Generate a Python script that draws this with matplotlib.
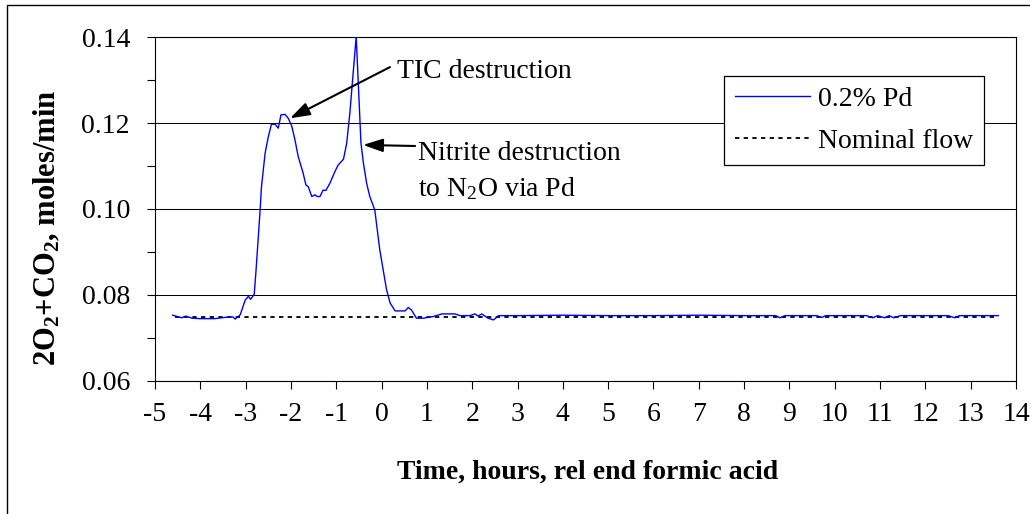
import matplotlib
matplotlib.use("Agg")
import matplotlib.pyplot as plt
from matplotlib.patches import Rectangle

plt.rcParams['font.family'] = ['Liberation Serif', 'DejaVu Serif']
plt.rcParams['mathtext.fontset'] = 'custom'
plt.rcParams['mathtext.rm'] = 'Liberation Serif'
plt.rcParams['mathtext.it'] = 'Liberation Serif:italic'
plt.rcParams['mathtext.bf'] = 'Liberation Serif:bold'
plt.rcParams['axes.unicode_minus'] = False

# ---- data ----
time_h = [-4.61, -4.41, -4.32, -4.18, -4.01, -3.68, -3.45, -3.28, -3.23, -3.12,
          -3.01, -2.94, -2.89, -2.81, -2.77, -2.68, -2.65, -2.57, -2.50, -2.43,
          -2.35, -2.28, -2.22, -2.13, -2.06, -1.98, -1.91, -1.84, -1.73, -1.67,
          -1.62, -1.54, -1.47, -1.42, -1.36, -1.29, -1.23, -1.14, -1.03, -0.96,
          -0.84, -0.77, -0.70, -0.64, -0.56, -0.455, -0.40, -0.33, -0.26, -0.15,
          -0.04, 0.11, 0.19, 0.30, 0.52, 0.59, 0.66, 0.77, 0.92, 1.14,
          1.33, 1.62, 1.73, 1.95, 2.06, 2.13, 2.21, 2.35, 2.47, 2.58,
          3.0, 4.0, 5.0, 6.0, 7.0, 8.0, 8.70, 8.79, 8.90, 9.60,
          9.72, 9.80, 10.70, 10.84, 10.95, 11.10, 11.20, 11.30, 11.45, 12.50,
          12.65, 12.75, 13.61]
pd_flow = [0.0753, 0.0747, 0.0751, 0.0746, 0.0745, 0.0745, 0.0748, 0.0749, 0.0744, 0.0754,
           0.0788, 0.0797, 0.0790, 0.0802, 0.0858, 0.0998, 0.1052, 0.1130, 0.1168, 0.1197,
           0.1197, 0.1188, 0.1219, 0.1220, 0.1211, 0.1192, 0.1160, 0.1122, 0.1083, 0.1056,
           0.1052, 0.1029, 0.1033, 0.1029, 0.1029, 0.1044, 0.1043, 0.1060, 0.1087, 0.1102,
           0.1116, 0.1153, 0.1223, 0.1300, 0.1401, 0.1153, 0.1106, 0.1060, 0.1029, 0.0998,
           0.0905, 0.0812, 0.0781, 0.0763, 0.0763, 0.0771, 0.0765, 0.0746, 0.0746, 0.0750,
           0.0756, 0.0756, 0.0752, 0.0752, 0.0756, 0.0751, 0.0756, 0.0746, 0.0742, 0.0752,
           0.0752, 0.0753, 0.0752, 0.0752, 0.0753, 0.0752, 0.0752, 0.0747, 0.0752, 0.0752,
           0.0748, 0.0752, 0.0752, 0.0747, 0.0752, 0.0747, 0.0752, 0.0747, 0.0752, 0.0752,
           0.0747, 0.0752, 0.0752]

nominal_t = [-4.55, 13.55]
nominal_flow = [0.075, 0.075]

x_ticks = list(range(-5, 15))
y_ticks = [0.06, 0.08, 0.10, 0.12, 0.14]
y_minor = [0.07, 0.09, 0.11, 0.13]

FS = 20

fig = plt.figure(figsize=(10.3, 5.14), dpi=100)
ax = fig.add_axes([155/1030, 1 - 381/514, (1016 - 155)/1030, (381 - 37)/514])

ax.plot(time_h, pd_flow, color='#0000ff', lw=1.0, label='0.2% Pd', zorder=3)
ax.plot(nominal_t, nominal_flow, color='black', lw=1.3, linestyle=(0, (2.4, 2.4)),
        label='Nominal flow', zorder=2)

ax.set_xlim(-5, 14)
ax.set_ylim(0.06, 0.14)
ax.set_xticks(x_ticks)
ax.set_yticks(y_ticks)
ax.set_yticks(y_minor, minor=True)
ax.set_yticklabels([f'{v:.2f}' for v in y_ticks])
ax.yaxis.grid(True, which='major', color='black', lw=0.75)
for s in ax.spines.values():
    s.set_color('black')
    s.set_linewidth(0.8)
ax.tick_params(axis='both', which='both', direction='out', length=6, width=0.8,
               labelsize=FS)
ax.tick_params(axis='y', pad=12)
ax.tick_params(axis='x', pad=9)

# annotations
ax.annotate('', xy=(-2.02, 0.1211), xytext=(0.185, 0.1330),
            arrowprops=dict(arrowstyle='-|>,head_length=0.6,head_width=0.2',
                            mutation_scale=20, lw=1.5, color='black',
                            shrinkA=0, shrinkB=0))
ax.text(0.34, 0.1305, 'TIC destruction', fontsize=FS, ha='left', va='baseline')

ax.annotate('', xy=(-0.41, 0.1149), xytext=(0.74, 0.11465),
            arrowprops=dict(arrowstyle='-|>,head_length=0.6,head_width=0.2',
                            mutation_scale=20, lw=1.5, color='black',
                            shrinkA=0, shrinkB=0))
ax.text(0.81, 0.1114, 'Nitrite destruction', fontsize=FS, ha='left', va='baseline')
ax.text(0.81, 0.1030, r'to N$_2$O via Pd', fontsize=FS, ha='left', va='baseline')

leg = ax.legend(loc='upper left', bbox_to_anchor=(724/1030, 1 - 76/514),
                bbox_transform=fig.transFigure, frameon=True, fancybox=False,
                edgecolor='black', framealpha=1, borderaxespad=0, fontsize=FS,
                handlelength=2.7, handletextpad=0.3, borderpad=0.38,
                labelspacing=0.6)
leg.get_frame().set_linewidth(0.9)

fig.text(588/1030, 1 - 472/514, 'Time, hours, rel end formic acid',
         fontsize=FS, fontweight='bold', ha='center', va='center')
fig.text(47.5/1030, 1 - 228/514, r'2O$_\mathbf{2}$+CO$_\mathbf{2}$, moles/min',
         fontsize=22, fontweight='bold', rotation=90, ha='center', va='center')

# outer chart border
fig.patches.append(Rectangle((7/1030, -0.1), 1.2, 1 - 5/514 + 0.1,
                             transform=fig.transFigure, fill=False,
                             lw=1.0, ec='black'))

fig.savefig('out.png', dpi=100)
